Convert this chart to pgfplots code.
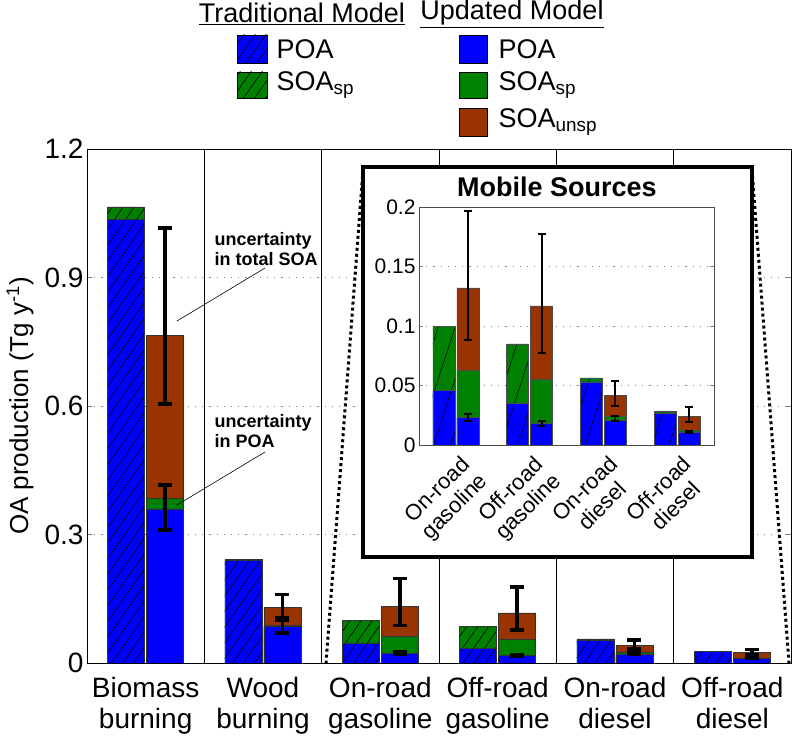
\documentclass[border=0pt]{standalone}
\usepackage{pgfplots}
\pgfplotsset{compat=1.18}
\usepackage{pgfplotstable}
\usepackage{fontspec}
\setmainfont{Liberation Sans}
\usetikzlibrary{patterns.meta}
\definecolor{cpoa}{RGB}{0,0,255}
\definecolor{csp}{RGB}{0,128,0}
\definecolor{cun}{RGB}{153,51,0}

% cumulative heights: traditional POA, traditional total, updated POA, updated POA+SOAsp, updated total
\pgfplotstableread{
x tpoa ttot upoa usp utot
1 1.035 1.065 0.360 0.385 0.765
2 0.240 0.242 0.085 0.088 0.130
3 0.046 0.0995 0.023 0.063 0.132
4 0.035 0.085 0.018 0.055 0.117
5 0.053 0.0565 0.021 0.024 0.042
6 0.027 0.028 0.011 0.012 0.024
}\bars

\pgfplotstableread{
x y ep em
1.166 0.765 0.250 0.160
2.166 0.130 0.030 0.025
3.166 0.132 0.065 0.044
4.166 0.117 0.060 0.040
5.166 0.042 0.012 0.009
6.166 0.024 0.008 0.005
}\errtot

\pgfplotstableread{
x y ep em
1.166 0.360 0.055 0.050
2.166 0.085 0.015 0.015
3.166 0.023 0.003 0.003
4.166 0.018 0.002 0.002
5.166 0.021 0.003 0.001
6.166 0.011 0.001 0.001
}\errpoa

\pgfplotstableread{
x tpoa ttot upoa usp utot
1 0.046 0.0995 0.023 0.063 0.132
2 0.035 0.085 0.018 0.055 0.117
3 0.053 0.0565 0.021 0.024 0.042
4 0.027 0.028 0.011 0.012 0.024
}\mob

\pgfplotstableread{
x y ep em
1.163 0.132 0.065 0.044
2.163 0.117 0.060 0.040
3.163 0.042 0.012 0.009
4.163 0.024 0.008 0.005
}\moberrtot

\pgfplotstableread{
x y ep em
1.163 0.023 0.003 0.003
2.163 0.018 0.002 0.002
3.163 0.021 0.003 0.001
4.163 0.011 0.001 0.001
}\moberrpoa

\tikzset{
  hatchmain/.style={postaction={pattern={Lines[angle=55,distance=9pt,line width=0.6pt]},pattern color=black}},
  hatchinset/.style={postaction={pattern={Lines[angle=72,distance=16pt,line width=0.5pt]},pattern color=black}},
  gridstyle/.style={dash pattern=on 1.2pt off 6pt, gray, line width=0.8pt},
}

\begin{document}
\begin{tikzpicture}
\useasboundingbox (-87pt,-81pt) rectangle (706pt,663pt);
\begin{axis}[
  name=main,
  at={(0pt,0pt)}, anchor=south west,
  width=704pt, height=514pt, scale only axis,
  xmin=0.5, xmax=6.5, ymin=0, ymax=1.2,
  ytick={0,0.3,0.6,0.9,1.2},
  yticklabels={0,0.3,0.6,0.9,1.2},
  xtick={1,2,3,4,5,6},
  xticklabels={{Biomass\\burning},{Wood\\burning},{On-road\\gasoline},{Off-road\\gasoline},{On-road\\diesel},{Off-road\\diesel}},
  xticklabel style={align=center, font=\fontsize{28}{31}\selectfont, yshift=-11pt},
  yticklabel style={font=\fontsize{28}{28}\selectfont},
  /pgf/number format/assume math mode=true,
  x tick style={draw=none},
  ymajorgrids, major grid style={gridstyle},
  extra x ticks={1.5,2.5,3.5,4.5,5.5},
  extra x tick labels={},
  extra x tick style={grid=major, major grid style={solid, black, line width=0.5pt}, major tick length=0pt},
  major tick length=5pt,
  axis line style={line width=0.6pt},
  ylabel={OA production (Tg y\textsuperscript{-1})},
  every axis y label/.style={at={(axis description cs:-0.095,0.5)}, rotate=90, anchor=center, font=\fontsize{26}{26}\selectfont},
]
\addplot[ybar, bar width=37pt, bar shift=-19.5pt, fill=csp, draw=black!80, line width=0.5pt, hatchmain] table[x=x,y=ttot]{\bars};
\addplot[ybar, bar width=37pt, bar shift=-19.5pt, fill=cpoa, draw=black!80, line width=0.5pt, hatchmain] table[x=x,y=tpoa]{\bars};
\addplot[ybar, bar width=37pt, bar shift=19.5pt, fill=cun, draw=black!80, line width=0.5pt] table[x=x,y=utot]{\bars};
\addplot[ybar, bar width=37pt, bar shift=19.5pt, fill=csp, draw=black!80, line width=0.5pt] table[x=x,y=usp]{\bars};
\addplot[ybar, bar width=37pt, bar shift=19.5pt, fill=cpoa, draw=black!80, line width=0.5pt] table[x=x,y=upoa]{\bars};
\addplot[draw=none, mark=none, error bars/.cd, y dir=both, y explicit,
  error bar style={draw=black, line width=3.5pt},
  error mark options={rotate=90, draw=black, mark size=7pt, line width=3.5pt}]
  table[x=x,y=y,y error plus=ep,y error minus=em]{\errtot};
\addplot[draw=none, mark=none, error bars/.cd, y dir=both, y explicit,
  error bar style={draw=black, line width=3.5pt},
  error mark options={rotate=90, draw=black, mark size=7pt, line width=3.5pt}]
  table[x=x,y=y,y error plus=ep,y error minus=em]{\errpoa};
\end{axis}

% annotations
\node[anchor=west, align=left, font=\fontsize{18}{20}\selectfont\bfseries] at (124pt,414pt) {uncertainty\\in total SOA};
\draw[line width=0.6pt] (178pt,395pt) -- (90pt,342pt);
\node[anchor=west, align=left, font=\fontsize{18}{20}\selectfont\bfseries] at (124pt,232pt) {uncertainty\\in POA};
\draw[line width=0.6pt] (178pt,211pt) -- (90pt,158pt);

% inset frame and zoom lines
\draw[fill=white, line width=4pt] (276pt,106pt) rectangle (665pt,496pt);
\draw[line width=3pt, dash pattern=on 3pt off 3pt] (276pt,493pt) -- (239pt,0pt);
\draw[line width=3pt, dash pattern=on 3pt off 3pt] (665pt,493pt) -- (702pt,0pt);
\node[font=\fontsize{27}{27}\selectfont\bfseries] at (470pt,476pt) {Mobile Sources};

\begin{axis}[
  at={(332pt,218pt)}, anchor=south west,
  width=295pt, height=238pt, scale only axis,
  xmin=0.5, xmax=4.5, ymin=0, ymax=0.2,
  ytick={0,0.05,0.1,0.15,0.2},
  yticklabels={0,0.05,0.1,0.15,0.2},
  xtick={1,2,3,4},
  xticklabels={{On-road\\gasoline},{Off-road\\gasoline},{On-road\\diesel},{Off-road\\diesel}},
  xticklabel style={align=center, rotate=45, anchor=north east, font=\fontsize{22}{24}\selectfont, yshift=-6pt},
  yticklabel style={font=\fontsize{21}{21}\selectfont},
  /pgf/number format/assume math mode=true,
  x tick style={draw=none},
  ymajorgrids, major grid style={gridstyle},
  major tick length=4pt,
  axis line style={line width=0.5pt, black!70},
]
\addplot[ybar, bar width=22pt, bar shift=-12pt, fill=csp, draw=black!70, line width=0.5pt, hatchinset] table[x=x,y=ttot]{\mob};
\addplot[ybar, bar width=22pt, bar shift=-12pt, fill=cpoa, draw=black!70, line width=0.5pt, hatchinset] table[x=x,y=tpoa]{\mob};
\addplot[ybar, bar width=22pt, bar shift=12pt, fill=cun, draw=black!70, line width=0.5pt] table[x=x,y=utot]{\mob};
\addplot[ybar, bar width=22pt, bar shift=12pt, fill=csp, draw=black!70, line width=0.5pt] table[x=x,y=usp]{\mob};
\addplot[ybar, bar width=22pt, bar shift=12pt, fill=cpoa, draw=black!70, line width=0.5pt] table[x=x,y=upoa]{\mob};
\addplot[draw=none, mark=none, error bars/.cd, y dir=both, y explicit,
  error bar style={draw=black, line width=2pt},
  error mark options={rotate=90, draw=black, mark size=4pt, line width=2pt}]
  table[x=x,y=y,y error plus=ep,y error minus=em]{\moberrtot};
\addplot[draw=none, mark=none, error bars/.cd, y dir=both, y explicit,
  error bar style={draw=black, line width=2pt},
  error mark options={rotate=90, draw=black, mark size=4pt, line width=2pt}]
  table[x=x,y=y,y error plus=ep,y error minus=em]{\moberrpoa};
\end{axis}

% legend
\node[font=\fontsize{27}{27}\selectfont] at (215pt,649pt) {\underline{Traditional Model}};
\node[font=\fontsize{27}{27}\selectfont] at (425pt,649pt) {\underline{Updated Model}};
\draw[fill=cpoa, line width=0.8pt, hatchmain] (150pt,600pt) rectangle (180pt,628pt);
\draw[fill=csp, line width=0.8pt, hatchmain] (150pt,565pt) rectangle (180pt,591pt);
\node[anchor=west, font=\fontsize{27}{27}\selectfont] at (186pt,614pt) {POA};
\node[anchor=west, font=\fontsize{27}{27}\selectfont] at (186pt,578pt) {SOA\textsubscript{sp}};
\draw[fill=cpoa, line width=0.8pt] (372pt,600pt) rectangle (400pt,628pt);
\draw[fill=csp, line width=0.8pt] (372pt,565pt) rectangle (400pt,591pt);
\draw[fill=cun, line width=0.8pt] (372pt,527pt) rectangle (400pt,555pt);
\node[anchor=west, font=\fontsize{27}{27}\selectfont] at (408pt,614pt) {POA};
\node[anchor=west, font=\fontsize{27}{27}\selectfont] at (408pt,578pt) {SOA\textsubscript{sp}};
\node[anchor=west, font=\fontsize{27}{27}\selectfont] at (408pt,541pt) {SOA\textsubscript{unsp}};
\end{tikzpicture}
\end{document}
